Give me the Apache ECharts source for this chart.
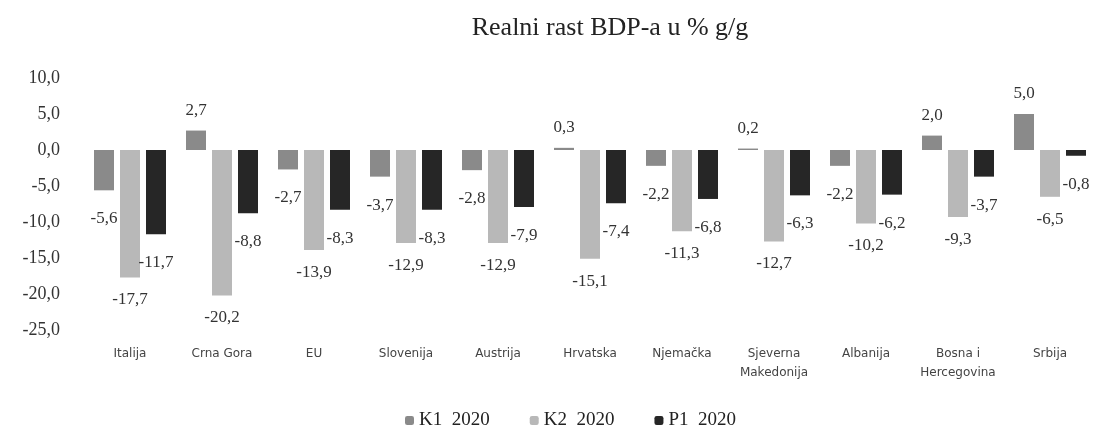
<!DOCTYPE html>
<html>
<head>
<meta charset="utf-8">
<script src="https://cdn.jsdelivr.net/npm/echarts@6/dist/echarts.min.js"></script>
<style>
  html, body { margin: 0; padding: 0; background: #fff; }
  #chart { width: 1120px; height: 429px; }
</style>
</head>
<body>
<div id="chart"></div>
<script>
// categories and values
var categories = ["Italija", "Crna Gora", "EU", "Slovenija", "Austrija", "Hrvatska",
  "Njemačka", "Sjeverna\nMakedonija", "Albanija", "Bosna i\nHercegovina", "Srbija"];
var k1 = [-5.6, 2.7, -2.7, -3.7, -2.8, 0.3, -2.2, 0.2, -2.2, 2.0, 5.0];
var k2 = [-17.7, -20.2, -13.9, -12.9, -12.9, -15.1, -11.3, -12.7, -10.2, -9.3, -6.5];
var p1 = [-11.7, -8.8, -8.3, -8.3, -7.9, -7.4, -6.8, -6.3, -6.2, -3.7, -0.8];
var seriesNames = ["K1  2020", "K2  2020", "P1  2020"];

var serif = "Liberation Serif";
function fmt(v) { return v.toFixed(1).replace(".", ","); }

var chart = echarts.init(document.getElementById("chart"));

// negative labels hang a bit lower than positive ones in the original
function bar(name, values, color, negDist) {
  return {
    name: name,
    type: "bar",
    data: values.map(function (v) {
      return { value: v, label: { distance: v < 0 ? negDist : 12 } };
    }),
    barWidth: 20,
    barGap: "30%",
    itemStyle: { color: color },
    label: {
      show: true,
      position: "outside",
      fontFamily: serif,
      fontSize: 17,
      color: "#333",
      formatter: function (p) { return fmt(p.value); }
    }
  };
}

chart.setOption({
  animation: false,
  title: {
    text: "Realni rast BDP-a u % g/g",
    left: 605,
    top: 10,
    textAlign: "center",
    textStyle: { fontFamily: serif, fontSize: 26, fontWeight: "normal", color: "#222" }
  },
  legend: {
    top: 406,
    left: 400,
    itemWidth: 9,
    itemHeight: 9,
    itemGap: 40,
    textStyle: { fontFamily: serif, fontSize: 19, color: "#222" },
    data: seriesNames
  },
  grid: { left: 84, right: 24, top: 78, height: 252 },
  xAxis: {
    type: "category",
    data: categories,
    axisLine: { show: false },
    axisTick: { show: false },
    axisLabel: {
      fontFamily: "DejaVu Sans",
      fontSize: 12,
      color: "#444",
      margin: 14,
      lineHeight: 19,
      interval: 0
    }
  },
  yAxis: {
    type: "value",
    min: -25,
    max: 10,
    interval: 5,
    splitLine: { show: false },
    axisLine: { show: false },
    axisTick: { show: false },
    axisLabel: {
      fontFamily: serif,
      fontSize: 18,
      color: "#333",
      margin: 24,
      formatter: function (v) { return fmt(v); }
    }
  },
  series: [
    bar(seriesNames[0], k1, "#8a8a8a", 20),
    bar(seriesNames[1], k2, "#b8b8b8", 14),
    bar(seriesNames[2], p1, "#262626", 20)
  ]
});
</script>
</body>
</html>
